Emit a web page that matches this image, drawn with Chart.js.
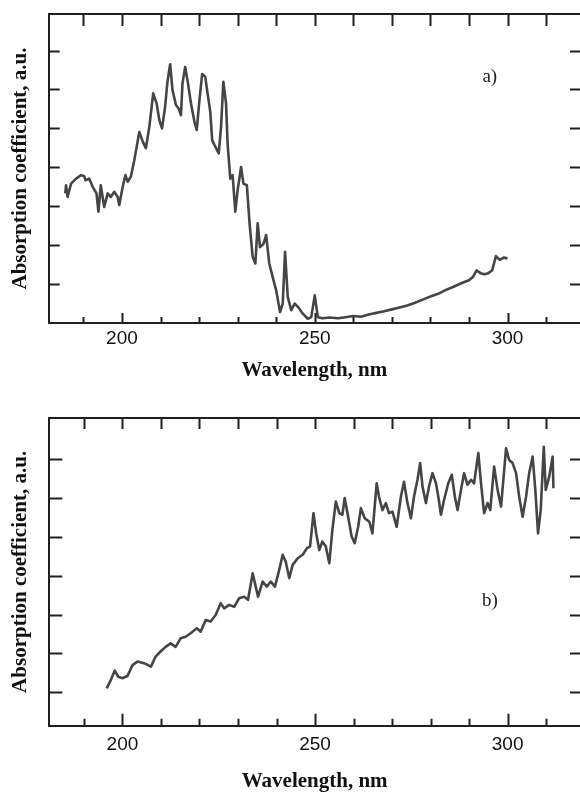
<!DOCTYPE html>
<html lang="en">
<head>
<meta charset="UTF-8">
<title>Absorption spectra</title>
<script src="https://cdn.jsdelivr.net/npm/chart.js@4.4.1/dist/chart.umd.min.js"></script>
<style>
  html, body { margin: 0; padding: 0; background: #fff; overflow: hidden; }
  canvas { display: block; }
</style>
</head>
<body>
<canvas id="chartA" width="580" height="390"></canvas>
<canvas id="chartB" width="580" height="404"></canvas>
<script>
// Panel a) - wavelength (nm) and absorption (a.u.)
const aWavelength = [185.3, 185.5, 185.9, 186.8, 188.1, 189.4, 190.2, 190.6, 191.5, 192.4,
  193.4, 193.9, 194.5, 195.4, 196.3, 197.1, 198.0, 198.9, 199.3, 200.2,
  200.9, 201.5, 202.3, 203.2, 204.5, 205.4, 206.2, 207.1, 208.1, 209.0,
  209.7, 210.4, 211.2, 211.8, 212.5, 213.1, 214.0, 214.7, 215.3, 215.7,
  216.4, 217.0, 217.9, 218.8, 219.4, 220.1, 220.8, 221.6, 222.2, 222.9,
  223.4, 224.2, 225.1, 225.7, 226.3, 227.0, 227.4, 228.1, 228.7, 229.4,
  230.0, 230.9, 231.5, 232.4, 233.1, 233.9, 234.6, 235.2, 235.8, 236.7,
  237.4, 238.2, 239.1, 240.0, 241.0, 241.7, 242.3, 243.0, 243.9, 244.8,
  245.7, 246.9, 248.2, 249.1, 250.0, 250.8, 252, 254, 256, 258,
  260, 262, 264, 266, 268, 270, 272, 274, 276, 278,
  280, 282, 284, 286, 288, 290, 291, 292, 293, 294,
  295, 296, 297, 298, 299, 300];
const aAbsorption = [3.33, 3.54, 3.24, 3.58, 3.71, 3.80, 3.77, 3.67, 3.71, 3.50,
  3.33, 2.86, 3.54, 2.98, 3.33, 3.24, 3.37, 3.24, 3.03, 3.50,
  3.80, 3.63, 3.76, 4.18, 4.91, 4.66, 4.49, 5.04, 5.90, 5.64,
  5.21, 5.00, 5.56, 6.20, 6.65, 5.99, 5.60, 5.51, 5.34, 6.16,
  6.58, 6.24, 5.64, 5.17, 4.96, 5.73, 6.40, 6.33, 5.90, 5.43,
  4.70, 4.53, 4.36, 5.04, 6.20, 5.64, 4.61, 3.71, 3.80, 2.86,
  3.41, 4.01, 3.58, 3.54, 2.56, 1.70, 1.53, 2.56, 1.95, 2.03,
  2.26, 1.53, 1.18, 0.84, 0.28, 0.50, 1.83, 0.67, 0.33, 0.50,
  0.41, 0.24, 0.11, 0.15, 0.71, 0.15, 0.12, 0.14, 0.12, 0.15,
  0.18, 0.16, 0.22, 0.26, 0.30, 0.35, 0.40, 0.45, 0.52, 0.60,
  0.68, 0.75, 0.85, 0.93, 1.02, 1.10, 1.18, 1.35, 1.28, 1.25,
  1.28, 1.35, 1.72, 1.62, 1.68, 1.66];

// Panel b)
const bWavelength = [195.9, 197.0, 198.0, 198.9, 200.0, 201.3, 202.6, 203.9, 205.6, 207.4,
  208.6, 209.9, 211.2, 212.5, 213.8, 215.1, 216.4, 217.7, 219.3, 220.3,
  221.6, 222.9, 224.2, 225.5, 226.4, 227.7, 229.0, 230.3, 231.6, 232.6,
  233.8, 234.6, 235.2, 236.4, 237.5, 238.5, 239.6, 240.7, 241.6, 242.4,
  243.3, 244.2, 245.5, 246.8, 247.9, 248.7, 249.6, 250.3, 251.1, 251.9,
  252.8, 253.7, 254.5, 255.4, 256.3, 257.1, 257.7, 258.6, 259.5, 260.3,
  261.2, 261.9, 262.9, 264.1, 264.9, 266.0, 266.6, 267.5, 268.4, 269.2,
  270.1, 271.2, 272.3, 273.1, 274.0, 274.9, 275.7, 276.6, 277.3, 277.9,
  278.8, 279.6, 280.5, 281.4, 282.0, 282.7, 283.5, 284.6, 285.5, 286.3,
  287.0, 287.9, 288.7, 289.6, 290.5, 291.3, 292.4, 293.1, 293.9, 294.8,
  295.5, 296.5, 297.4, 298.3, 299.6, 300.4, 301.3, 302.2, 303.0, 303.9,
  304.8, 305.6, 306.5, 307.2, 307.9, 308.6, 309.4, 309.9, 310.8, 311.7,
  311.9];
const bAbsorption = [1.10, 1.32, 1.56, 1.40, 1.36, 1.42, 1.70, 1.79, 1.75, 1.66,
  1.92, 2.05, 2.17, 2.26, 2.17, 2.39, 2.43, 2.52, 2.65, 2.56,
  2.86, 2.82, 2.99, 3.29, 3.16, 3.25, 3.20, 3.42, 3.46, 3.38,
  4.06, 3.72, 3.46, 3.85, 3.72, 3.85, 3.72, 4.15, 4.54, 4.36,
  3.94, 4.28, 4.45, 4.54, 4.71, 4.75, 5.61, 5.09, 4.66, 4.88,
  4.75, 4.32, 5.18, 5.91, 5.61, 5.57, 6.00, 5.52, 5.01, 4.84,
  5.26, 5.74, 5.48, 5.39, 5.09, 6.38, 6.04, 5.69, 5.87, 5.61,
  5.65, 5.26, 6.04, 6.42, 5.87, 5.48, 6.04, 6.47, 6.90, 6.30,
  5.87, 6.30, 6.64, 6.38, 6.04, 5.57, 5.95, 6.38, 6.60, 6.04,
  5.69, 6.21, 6.64, 6.34, 6.47, 6.38, 7.16, 6.38, 5.61, 5.87,
  5.69, 6.81, 6.21, 5.78, 7.28, 6.98, 6.90, 6.64, 6.04, 5.52,
  6.04, 6.64, 7.07, 6.21, 5.09, 5.69, 7.32, 6.21, 6.55, 7.07,
  6.25];

// Axis ticks
const xTickLabels = [200, 250, 300];
const xTicks = [190, 200, 210, 220, 230, 240, 250, 260, 270, 280, 290, 300, 310];
const yTicks = [1, 2, 3, 4, 5, 6, 7];

const axisColor = '#231f20';

// Draws the top frame line, inward tick marks on all four sides and the panel letter
const frameTicks = {
    id: 'frameTicks',
    afterDraw(chart, args, opts) {
        const {ctx, chartArea: {left, right, top, bottom}, scales: {x, y}} = chart;
        ctx.save();
        ctx.strokeStyle = axisColor;
        ctx.lineWidth = 2;
        ctx.beginPath();
        ctx.moveTo(left, top);
        ctx.lineTo(right, top);
        xTicks.forEach(v => {
            const px = Math.round(x.getPixelForValue(v)) + 0.5;
            const len = xTickLabels.includes(v) ? opts.majorLen : opts.minorLen;
            ctx.moveTo(px, bottom);
            ctx.lineTo(px, bottom - len);
            ctx.moveTo(px, top);
            ctx.lineTo(px, top + opts.topLen);
        });
        yTicks.forEach(v => {
            const py = Math.round(y.getPixelForValue(v)) + 0.5;
            ctx.moveTo(left, py);
            ctx.lineTo(left + opts.leftLen, py);
            ctx.moveTo(right, py);
            ctx.lineTo(right - opts.rightLen, py);
        });
        ctx.stroke();

        ctx.fillStyle = '#222';
        ctx.font = '19px "Liberation Serif"';
        ctx.textAlign = 'center';
        ctx.textBaseline = 'middle';
        ctx.fillText(opts.label, x.getPixelForValue(opts.labelAt[0]), y.getPixelForValue(opts.labelAt[1]));
        ctx.restore();
    }
};

function makeChart(id, xs, ys, cfg) {
    const points = xs.map((w, i) => ({x: w, y: ys[i]}));
    return new Chart(document.getElementById(id), {
        type: 'line',
        data: {
            datasets: [{
                data: points,
                borderColor: '#454545',
                borderWidth: 2.6,
                pointRadius: 0,
                tension: 0,
                borderJoinStyle: 'round',
                fill: false
            }]
        },
        options: {
            responsive: false,
            animation: false,
            layout: {padding: {top: cfg.top, right: 0, bottom: 0, left: 0}},
            plugins: {
                legend: {display: false},
                tooltip: {enabled: false},
                frameTicks: cfg.frame
            },
            scales: {
                x: {
                    type: 'linear',
                    min: 181,
                    max: 318.8,
                    afterBuildTicks: s => { s.ticks = xTickLabels.map(v => ({value: v})); },
                    afterFit: s => { s.height = cfg.xHeight; },
                    grid: {display: false, drawTicks: false},
                    border: {display: true, color: axisColor, width: 2},
                    ticks: {
                        font: {family: 'Liberation Sans', size: 19},
                        color: '#111',
                        padding: cfg.tickPad,
                        maxRotation: 0,
                        autoSkip: false
                    },
                    title: {
                        display: true,
                        text: 'Wavelength, nm',
                        color: '#111',
                        font: {family: 'Liberation Serif', weight: 'bold', size: 21},
                        padding: {top: 0, bottom: cfg.titlePad}
                    }
                },
                y: {
                    min: cfg.yMin,
                    max: cfg.yMax,
                    afterFit: s => { s.width = cfg.yWidth; },
                    grid: {display: false, drawTicks: false},
                    border: {display: true, color: axisColor, width: 2},
                    ticks: {display: false},
                    title: {
                        display: true,
                        text: 'Absorption coefficient, a.u.',
                        color: '#111',
                        font: {family: 'Liberation Serif', weight: 'bold', size: 21},
                        padding: {top: 8, bottom: 0}
                    }
                }
            }
        },
        plugins: [frameTicks]
    });
}

makeChart('chartA', aWavelength, aAbsorption, {
    top: 14, xHeight: 67, yWidth: 48.7, yMin: 0, yMax: 7.94,
    tickPad: 4, titlePad: 7,
    frame: {majorLen: 10, minorLen: 6, topLen: 12, leftLen: 11, rightLen: 10, label: 'a)', labelAt: [295.4, 6.32]}
});

makeChart('chartB', bWavelength, bAbsorption, {
    top: 28, xHeight: 68.3, yWidth: 49.3, yMin: 0.14, yMax: 8.06,
    tickPad: 8, titlePad: 0,
    frame: {majorLen: 12, minorLen: 7, topLen: 11, leftLen: 13, rightLen: 10, label: 'b)', labelAt: [295.4, 3.35]}
});
</script>
</body>
</html>
